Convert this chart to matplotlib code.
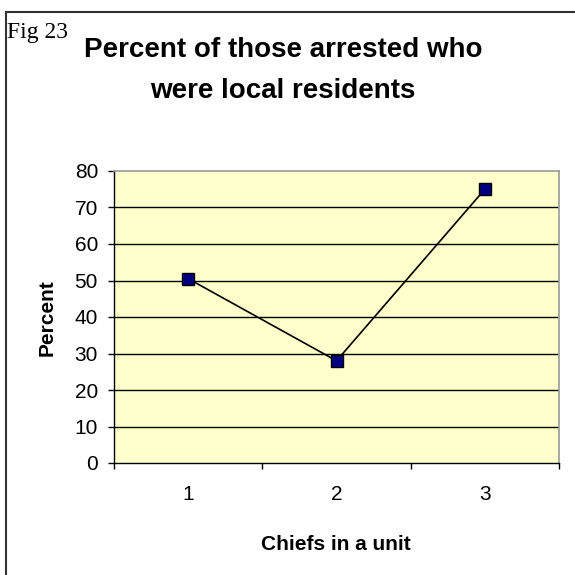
import matplotlib.pyplot as plt
from matplotlib.lines import Line2D

# dane
chiefs = [1, 2, 3]
percent = [50.5, 28, 75]
y_ticks = [0, 10, 20, 30, 40, 50, 60, 70, 80]

fig = plt.figure(figsize=(5.75, 5.75), dpi=100)
fig.patch.set_facecolor('white')

# ramka wokol wykresu (widoczna tylko z lewej i u gory)
fig.add_artist(Line2D([6 / 575, 6 / 575], [0, 1 - 12 / 575], color='#333333', lw=1.5))
fig.add_artist(Line2D([6 / 575, 1], [1 - 12 / 575, 1 - 12 / 575], color='#333333', lw=1.5))

ax = fig.add_axes([114 / 575, 1 - 463 / 575, 445 / 575, 292 / 575])
ax.set_facecolor('#FFFFCC')

ax.plot(chiefs, percent, color='black', lw=1.2, marker='s', markersize=8.5,
        markerfacecolor='#000080', markeredgecolor='black', markeredgewidth=1, zorder=3)

ax.set_xlim(0.5, 3.5)
ax.set_ylim(0, 80)
ax.set_yticks(y_ticks)
ax.set_xticks(chiefs)
ax.set_xticks([0.5, 1.5, 2.5, 3.5], minor=True)
ax.tick_params(axis='x', which='major', length=0, pad=16)
ax.tick_params(axis='x', which='minor', length=4.5, width=1, color='black')
ax.tick_params(axis='y', length=4.5, width=1, color='black', pad=7)
for lab in ax.get_xticklabels() + ax.get_yticklabels():
    lab.set_fontfamily('Liberation Sans')
    lab.set_fontsize(15)

for y in y_ticks[1:-1]:
    ax.axhline(y, color='black', lw=1, zorder=1)

for side in ['top', 'right']:
    ax.spines[side].set_color('#999999')
    ax.spines[side].set_linewidth(1.2)
for side in ['left', 'bottom']:
    ax.spines[side].set_color('black')
    ax.spines[side].set_linewidth(1)

# etykiety osi
fig.text(336 / 575, 1 - 544 / 575, 'Chiefs in a unit', ha='center', va='center',
         fontfamily='Liberation Sans', fontweight='bold', fontsize=15)
fig.text(47 / 575, 1 - 318 / 575, 'Percent', ha='center', va='center', rotation=90,
         fontfamily='Liberation Sans', fontweight='bold', fontsize=15)

# tytul
fig.text(283 / 575, 1 - 50 / 575, 'Percent of those arrested who', ha='center', va='center',
         fontfamily='Liberation Sans', fontweight='bold', fontsize=20)
fig.text(283 / 575, 1 - 91 / 575, 'were local residents', ha='center', va='center',
         fontfamily='Liberation Sans', fontweight='bold', fontsize=20)
fig.text(7 / 575, 1 - 38 / 575, 'Fig 23', ha='left', va='baseline',
         fontfamily='Liberation Serif', fontsize=17)

plt.savefig('out.png', dpi=100)
